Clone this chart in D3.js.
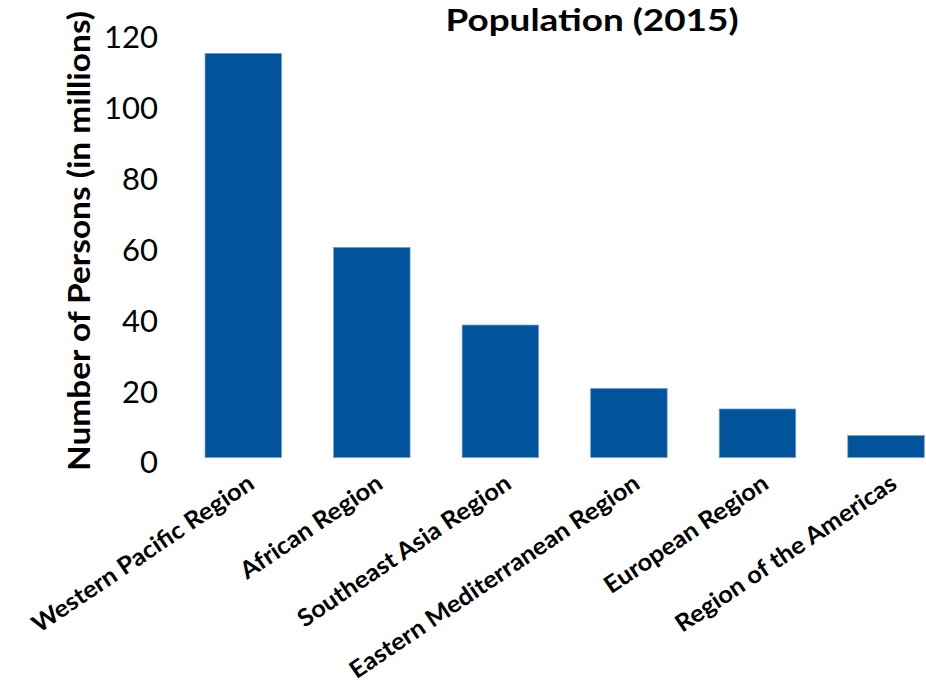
<!DOCTYPE html>
<html>
<head>
<meta charset="utf-8">
<script src="https://cdn.jsdelivr.net/npm/d3@7"></script>
<style>
  html, body { margin: 0; padding: 0; background: #fff; }
  svg { display: block; font-family: Lato, "Open Sans", sans-serif; }
</style>
</head>
<body>
<svg id="chart" width="926" height="685"></svg>
<script>
const categories = [
  "Western Pacific Region",
  "African Region",
  "Southeast Asia Region",
  "Eastern Mediterranean Region",
  "European Region",
  "Region of the Americas"
];
const values = [114.1, 59.3, 37.4, 19.5, 13.7, 6.2];
const yTicks = [0, 20, 40, 60, 80, 100, 120];
const title = "Population (2015)";
const yTitle = "Number of Persons (in millions)";

const svg = d3.select("#chart");

const x = d3.scaleBand()
  .domain(categories)
  .range([179, 950.3])
  .paddingInner(0.405)
  .paddingOuter(0.2025);

const y = d3.scaleLinear().domain([0, 120]).range([457.5, 32.5]);

// Bars
svg.append("g").selectAll("rect")
  .data(categories.map((c, i) => ({ c, v: values[i] })))
  .join("rect")
  .attr("x", d => x(d.c))
  .attr("y", d => y(d.v))
  .attr("width", x.bandwidth())
  .attr("height", d => y(0) - y(d.v))
  .attr("fill", "#01539b")
  .attr("stroke", "#6d9fd3")
  .attr("stroke-width", 0.7);

// Y axis (labels only)
const yAxis = d3.axisLeft(y).tickValues(yTicks).tickSize(0).tickPadding(0);
const gy = svg.append("g").attr("transform", "translate(158,4.5)").call(yAxis);
gy.select(".domain").remove();
gy.selectAll("text")
  .attr("font-family", "Lato, sans-serif")
  .attr("font-size", 31)
  .attr("fill", "#000")
  .attr("dy", "0.35em");

// X axis (rotated labels)
const xAxis = d3.axisBottom(x).tickSize(0).tickPadding(0);
const gx = svg.append("g").attr("transform", "translate(0,474)").call(xAxis);
gx.select(".domain").remove();
gx.selectAll(".tick text")
  .attr("font-family", "Lato, sans-serif")
  .attr("font-weight", "bold")
  .attr("font-size", 24)
  .attr("fill", "#000")
  .attr("text-anchor", "end")
  .attr("x", 3)
  .attr("y", 0)
  .attr("dy", "0.75em")
  .attr("transform", "rotate(-34)")
  .each(function () {
    const t = d3.select(this);
    const len = this.getComputedTextLength();
    t.attr("textLength", len * 1.06).attr("lengthAdjust", "spacingAndGlyphs");
  });

// Title
svg.append("text")
  .attr("x", 592).attr("y", 31)
  .attr("text-anchor", "middle")
  .attr("font-weight", "bold")
  .attr("font-size", 31)
  .attr("fill", "#000")
  .attr("textLength", 293)
  .attr("lengthAdjust", "spacingAndGlyphs")
  .text(title);

// Y title
svg.append("text")
  .attr("transform", "translate(90,241) rotate(-90)")
  .attr("text-anchor", "middle")
  .attr("font-weight", "bold")
  .attr("font-size", 30)
  .attr("fill", "#000")
  .attr("textLength", 460)
  .attr("lengthAdjust", "spacingAndGlyphs")
  .text(yTitle);
</script>
</body>
</html>
